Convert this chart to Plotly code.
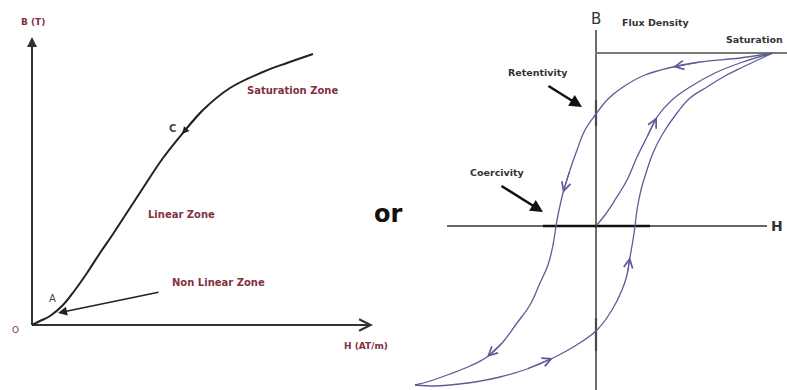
import plotly.graph_objects as go

# ---- Left: B-H magnetisation curve (H and B in drawing units) ----
bh_H = [0, 8, 18, 31, 43, 55, 68, 81, 96, 111, 131, 150, 171, 198, 231, 255, 281]
bh_B = [0, 4, 9, 20, 35, 52, 72, 91, 114, 137, 167, 191, 215, 237, 253, 262, 271]
left_H_max = 341
left_B_max = 288

# ---- Right: hysteresis loop ----
desc_H = [177, 144, 104, 77, 49, 27, 12, 0, -11, -19, -26, -33, -38, -40, -43, -48,
          -56, -66, -79, -93, -109, -126, -146, -166, -181]
desc_B = [173, 168, 164, 159, 151, 139, 127, 112, 96, 76, 56, 33, 11, 0, -19, -39,
          -57, -79, -97, -116, -131, -140, -148, -155, -159]
asc_H = [-181, -161, -146, -121, -96, -69, -43, -21, 1, 16, 26, 31, 34, 37, 39, 41,
         45, 51, 57, 66, 81, 94, 111, 129, 147, 177]
asc_B = [-159, -160, -159, -156, -151, -143, -132, -120, -104, -84, -64, -49, -31, -14,
         0, 16, 36, 56, 73, 91, 113, 128, 139, 150, 159, 173]
init_H = [0, 9, 19, 31, 41, 51, 61, 76, 94, 119, 144, 177]
init_B = [0, 11, 26, 46, 69, 89, 109, 126, 139, 153, 163, 173]
B_sat = 173
H_axis_span = [-149, 171]
B_axis_span = [-170, 196]
Hc_band = [-53, 54]

MAROON = "#84303f"
LOOP = "#5c5c98"
FONT = "DejaVu Sans, Verdana, sans-serif"

fig = go.Figure()


def line(x, y, color, width, xa="x", ya="y", shape="linear"):
    fig.add_trace(go.Scatter(x=x, y=y, mode="lines", xaxis=xa, yaxis=ya,
                             line=dict(color=color, width=width, shape=shape,
                                       smoothing=1.1),
                             hoverinfo="skip", showlegend=False))


# left axes
line([0, 0], [0, left_B_max - 4], "#333333", 2)
line([0, left_H_max - 4], [0, 0], "#333333", 2)
# B-H curve
line(bh_H, bh_B, "#222222", 2, shape="spline")

# right axes
line([0, 0], B_axis_span, "#6e6e6e", 2, "x2", "y2")
line([0, 0], [100, 126], "#4a4a4a", 2.2, "x2", "y2")
line([0, 0], [-92, -125], "#4a4a4a", 2.2, "x2", "y2")
line(H_axis_span, [0, 0], "#333333", 1.6, "x2", "y2")
line(Hc_band, [0, 0], "#111111", 2.4, "x2", "y2")
line([0, 200], [B_sat, B_sat], "#7a7a7a", 2, "x2", "y2")
# hysteresis branches
line(desc_H, desc_B, LOOP, 1.3, "x2", "y2", shape="spline")
line(asc_H, asc_B, LOOP, 1.3, "x2", "y2", shape="spline")
line(init_H, init_B, LOOP, 1.3, "x2", "y2", shape="spline")

ann = []


def text(x, y, s, size=10, color="#222222", xa="x", ya="y", bold=True, anchor="center"):
    ann.append(dict(x=x, y=y, xref=xa, yref=ya, text=f"<b>{s}</b>" if bold else s,
                    showarrow=False, xanchor=anchor, yanchor="middle",
                    font=dict(family=FONT, size=size, color=color)))


def arrow(hx, hy, tx, ty, color, width, head, size, xa="x", ya="y"):
    ann.append(dict(x=hx, y=hy, ax=tx, ay=ty, xref=xa, yref=ya, axref=xa, ayref=ya,
                    text="", showarrow=True, arrowcolor=color, arrowwidth=width,
                    arrowhead=head, arrowsize=size))


# axis arrowheads on the left diagram
arrow(0, left_B_max, 0, left_B_max - 20, "#333333", 2, 2, 1)
arrow(left_H_max, 0, left_H_max - 12, 0, "#333333", 1.6, 5, 1.4)
# direction mark near C
arrow(bh_H[11], bh_B[11], bh_H[12], bh_B[12], "#222222", 1.2, 2, 1.2)
# pointer to the non-linear zone
arrow(26, 12, 128, 33, "#222222", 1.5, 2, 1.2)

text(1, 303, "B (T)", 9, MAROON)
text(-17, -5, "O", 9, MAROON, bold=False)
text(20, 27, "A", 10, "#444444", bold=False)
text(140, 197, "C", 10, "#444444")
text(260, 235, "Saturation Zone", 10, MAROON)
text(149, 111, "Linear Zone", 10, MAROON)
text(186, 43, "Non Linear Zone", 10, MAROON)
text(310, -21, "H (AT/m)", 9, MAROON, anchor="left")
text(356, 111, "or", 24, "#111111", bold=True)

# right-hand labels
text(0, 207, "B", 15, "#333333", "x2", "y2", bold=False)
text(59, 204, "Flux Density", 9.5, "#333333", "x2", "y2")
text(128, 187, "Saturation", 9.5, "#333333", "x2", "y2", anchor="left")
text(-58, 154, "Retentivity", 9.5, "#333333", "x2", "y2")
text(-99, 54, "Coercivity", 9.5, "#333333", "x2", "y2")
text(181, 0, "H", 14, "#333333", "x2", "y2")
arrow(-14, 119, -49, 141, "#111111", 2.5, 2, 1, "x2", "y2")
arrow(-53, 14, -96, 41, "#111111", 2.5, 2, 1, "x2", "y2")

# direction chevrons along the loop
for xs, ys, i, j in [(desc_H, desc_B, 3, 2), (desc_H, desc_B, 11, 10),
                     (desc_H, desc_B, 20, 19), (asc_H, asc_B, 6, 5),
                     (asc_H, asc_B, 12, 11), (init_H, init_B, 6, 5)]:
    arrow(xs[i], ys[i], xs[j], ys[j], LOOP, 1.1, 5, 1.6, "x2", "y2")

ax_common = dict(visible=False, showgrid=False, zeroline=False, fixedrange=True)
fig.update_layout(
    width=787, height=390,
    margin=dict(l=0, r=0, t=0, b=0),
    paper_bgcolor="white", plot_bgcolor="white",
    xaxis=dict(domain=[0, 0.5], range=[-32, 361.5], **ax_common),
    yaxis=dict(domain=[0, 1], range=[-65, 325], **ax_common),
    xaxis2=dict(domain=[0.5, 1], range=[-202.5, 191], anchor="y2", **ax_common),
    yaxis2=dict(domain=[0, 1], range=[-164, 226], anchor="x2", **ax_common),
    annotations=ann,
    showlegend=False,
)

fig.write_html("out.html")
